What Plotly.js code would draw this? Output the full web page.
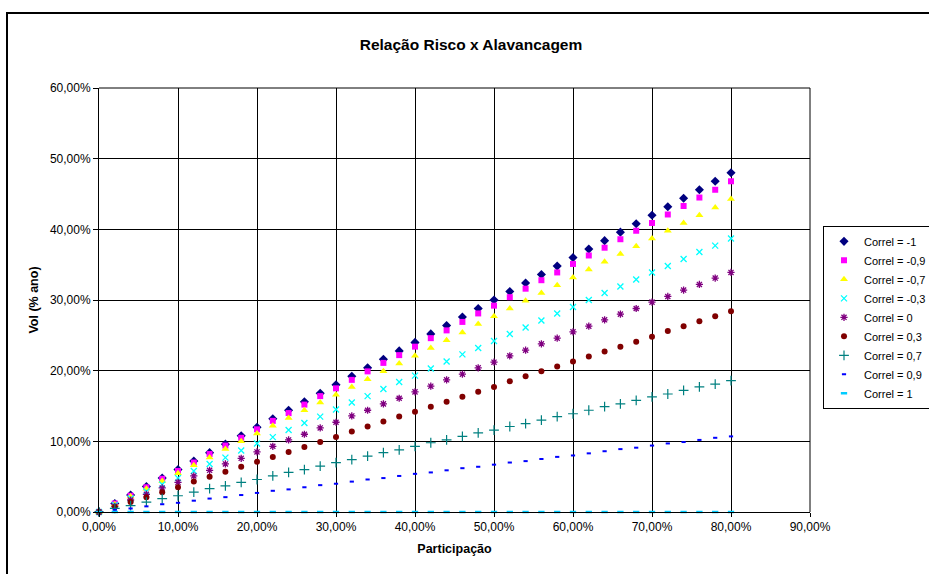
<!DOCTYPE html>
<html>
<head>
<meta charset="utf-8">
<script src="https://cdn.plot.ly/plotly-3.0.1.min.js"></script>
<style>
  html, body { margin: 0; padding: 0; background: #fff; overflow: hidden; }
  #chart { width: 929px; height: 574px; }
  #frame { position: absolute; left: 6px; top: 12px; width: 1000px; height: 1000px;
           border: 2px solid #000; pointer-events: none; }
</style>
</head>
<body>
<div id="chart"></div>
<div id="frame"></div>
<script>
// Participação (x)
const participacao = [0,0.02,0.04,0.06,0.08,0.10,0.12,0.14,0.16,0.18,0.20,0.22,0.24,0.26,0.28,0.30,0.32,0.34,0.36,0.38,0.40,0.42,0.44,0.46,0.48,0.50,0.52,0.54,0.56,0.58,0.60,0.62,0.64,0.66,0.68,0.70,0.72,0.74,0.76,0.78,0.80];

const seriesNames = ["Correl = -1","Correl = -0,9","Correl = -0,7","Correl = -0,3","Correl = 0","Correl = 0,3","Correl = 0,7","Correl = 0,9","Correl = 1"];

const volM1  = [0,0.012,0.024,0.036,0.048,0.060,0.072,0.084,0.096,0.108,0.120,0.132,0.144,0.156,0.168,0.180,0.192,0.204,0.216,0.228,0.240,0.252,0.264,0.276,0.288,0.300,0.312,0.324,0.336,0.348,0.360,0.372,0.384,0.396,0.408,0.420,0.432,0.444,0.456,0.468,0.480];
const volM09 = [0,0.012,0.023,0.035,0.047,0.058,0.070,0.082,0.094,0.105,0.117,0.129,0.140,0.152,0.164,0.175,0.187,0.199,0.211,0.222,0.234,0.246,0.257,0.269,0.281,0.292,0.304,0.316,0.328,0.339,0.351,0.363,0.374,0.386,0.398,0.409,0.421,0.433,0.445,0.456,0.468];
const volM07 = [0,0.011,0.022,0.033,0.044,0.055,0.066,0.077,0.089,0.100,0.111,0.122,0.133,0.144,0.155,0.166,0.177,0.188,0.199,0.210,0.221,0.232,0.243,0.254,0.266,0.277,0.288,0.299,0.310,0.321,0.332,0.343,0.354,0.365,0.376,0.387,0.398,0.409,0.420,0.431,0.443];
const volM03 = [0,0.010,0.019,0.029,0.039,0.048,0.058,0.068,0.077,0.087,0.097,0.106,0.116,0.126,0.135,0.145,0.155,0.164,0.174,0.184,0.193,0.203,0.213,0.223,0.232,0.242,0.252,0.261,0.271,0.281,0.290,0.300,0.310,0.319,0.329,0.339,0.348,0.358,0.368,0.377,0.387];
const vol0   = [0,0.008,0.017,0.025,0.034,0.042,0.051,0.059,0.068,0.076,0.085,0.093,0.102,0.110,0.119,0.127,0.136,0.144,0.153,0.161,0.170,0.178,0.187,0.195,0.204,0.212,0.221,0.229,0.238,0.246,0.255,0.263,0.272,0.280,0.288,0.297,0.305,0.314,0.322,0.331,0.339];
const volP03 = [0,0.007,0.014,0.021,0.028,0.035,0.043,0.050,0.057,0.064,0.071,0.078,0.085,0.092,0.099,0.106,0.114,0.121,0.128,0.135,0.142,0.149,0.156,0.163,0.170,0.177,0.185,0.192,0.199,0.206,0.213,0.220,0.227,0.234,0.241,0.248,0.256,0.263,0.270,0.277,0.284];
const volP07 = [0,0.005,0.009,0.014,0.019,0.023,0.028,0.033,0.037,0.042,0.046,0.051,0.056,0.060,0.065,0.070,0.074,0.079,0.084,0.088,0.093,0.098,0.102,0.107,0.112,0.116,0.121,0.125,0.130,0.135,0.139,0.144,0.149,0.153,0.158,0.163,0.167,0.172,0.177,0.181,0.186];
const volP09 = [0,0.003,0.005,0.008,0.011,0.013,0.016,0.019,0.021,0.024,0.027,0.030,0.032,0.035,0.038,0.040,0.043,0.046,0.048,0.051,0.054,0.056,0.059,0.062,0.064,0.067,0.070,0.072,0.075,0.078,0.080,0.083,0.086,0.089,0.091,0.094,0.097,0.099,0.102,0.105,0.107];
const volP1  = [0,0,0,0,0,0,0,0,0,0,0,0,0,0,0,0,0,0,0,0,0,0,0,0,0,0,0,0,0,0,0,0,0,0,0,0,0,0,0,0,0];

const seriesValues = [volM1, volM09, volM07, volM03, vol0, volP03, volP07, volP09, volP1];

const markerStyles = [
  {symbol: "diamond", size: 7, color: "#000080"},
  {symbol: "square", size: 6, color: "#FF00FF"},
  {symbol: "triangle-up", size: 7, color: "#FFFF00"},
  {symbol: "x-thin", size: 6, color: "#00FFFF", line: {color: "#00FFFF", width: 1.3}},
  {symbol: "asterisk", size: 6, color: "#800080", line: {color: "#800080", width: 1.3}},
  {symbol: "circle", size: 6, color: "#800000"},
  {symbol: "cross-thin", size: 7, color: "#008080", line: {color: "#008080", width: 1.2}},
  {symbol: "line-ew", size: 3, color: "#0000FF", line: {color: "#0000FF", width: 2}},
  {symbol: "line-ew", size: 4.5, color: "#00CCFF", line: {color: "#00CCFF", width: 2.5}}
];

const traces = seriesNames.map((name, i) => ({
  type: "scatter",
  mode: "markers",
  name: name,
  x: participacao,
  y: seriesValues[i],
  marker: markerStyles[i],
  cliponaxis: false
}));

const font = "'Liberation Sans', Arial, sans-serif";

const layout = {
  width: 929,
  height: 574,
  margin: {l: 99, r: 119, t: 88, b: 62, autoexpand: false},
  paper_bgcolor: "#fff",
  plot_bgcolor: "#fff",
  separators: ",.",
  font: {family: font, size: 12, color: "#000"},
  showlegend: true,
  title: {
    text: "<b>Relação Risco x Alavancagem</b>",
    font: {family: font, size: 15.5, color: "#000"},
    x: 0.507, xref: "container", xanchor: "center",
    y: 1 - 45/574, yref: "container", yanchor: "middle"
  },
  xaxis: {
    range: [0, 0.9],
    tickvals: [0,0.1,0.2,0.3,0.4,0.5,0.6,0.7,0.8,0.9],
    tickformat: ".2%",
    showgrid: true, gridcolor: "#000", gridwidth: 1,
    showline: true, linecolor: "#000", linewidth: 1,
    zeroline: false,
    ticks: "outside", ticklen: 4, tickcolor: "#000",
    tickfont: {family: font, size: 12, color: "#000"},
    title: {text: "<b>Participação</b>", font: {family: font, size: 12.5, color: "#000"}, standoff: 10}
  },
  yaxis: {
    range: [0, 0.6],
    tickvals: [0,0.1,0.2,0.3,0.4,0.5,0.6],
    tickformat: ".2%",
    showgrid: true, gridcolor: "#000", gridwidth: 1,
    showline: true, linecolor: "#000", linewidth: 1,
    zeroline: false,
    ticks: "outside", ticklen: 5, tickcolor: "#000",
    tickfont: {family: font, size: 12, color: "#000"},
    title: {text: "<b>Vol (% ano)</b>", font: {family: font, size: 12.5, color: "#000"}, standoff: 8}
  },
  shapes: [
    {type: "line", xref: "paper", yref: "paper", x0: 1, x1: 1, y0: 0, y1: 1, line: {color: "#000", width: 1}},
    {type: "line", xref: "paper", yref: "paper", x0: 0, x1: 1, y0: 1, y1: 1, line: {color: "#000", width: 1}}
  ],
  legend: {
    x: (823 - 99) / 711, xanchor: "left",
    y: (512.5 - 226) / 424.5, yanchor: "top",
    bgcolor: "#fff", bordercolor: "#000", borderwidth: 1,
    font: {family: font, size: 11, color: "#000"},
    itemwidth: 30,
    tracegroupgap: 0
  }
};

Plotly.newPlot("chart", traces, layout, {displayModeBar: false, staticPlot: true});
</script>
</body>
</html>
